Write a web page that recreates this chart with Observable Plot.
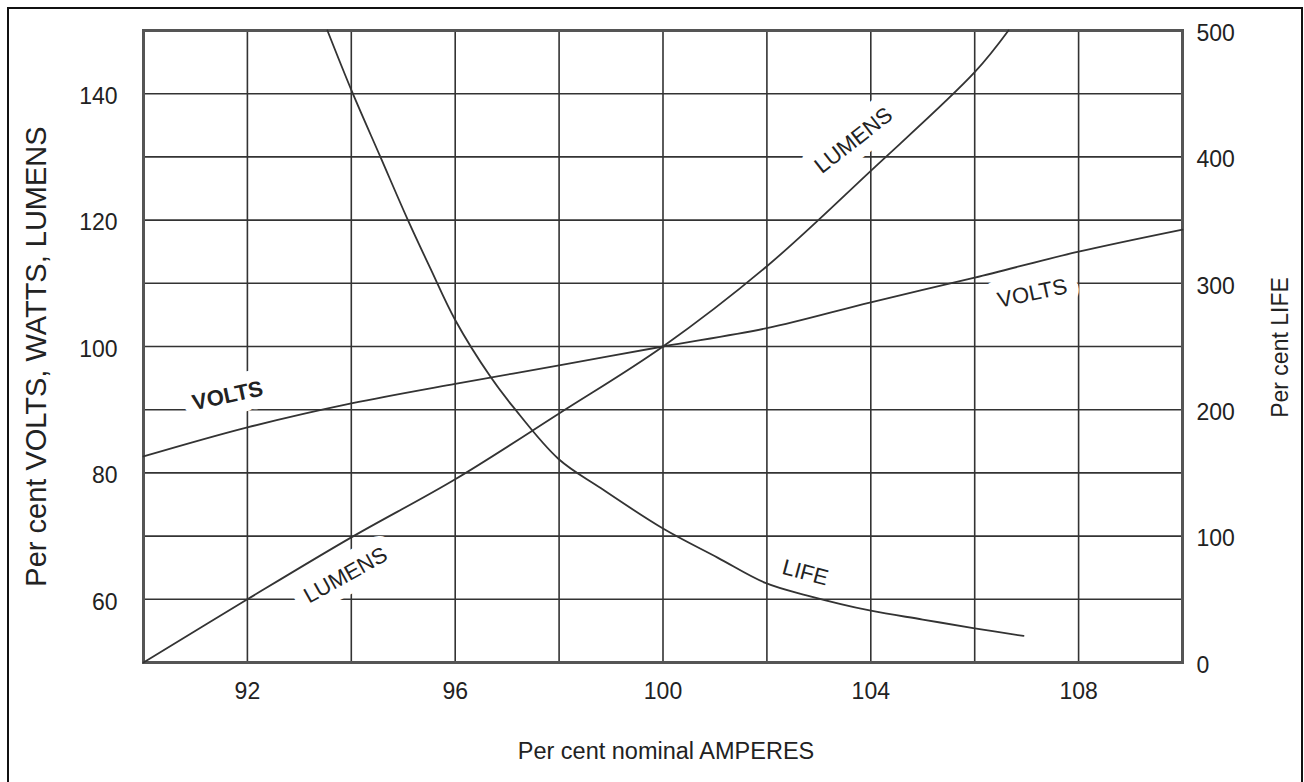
<!DOCTYPE html>
<html><head><meta charset="utf-8">
<script src="https://cdn.jsdelivr.net/npm/d3@7"></script>
<script src="https://cdn.jsdelivr.net/npm/@observablehq/plot@0.6"></script>
<style>
html,body{margin:0;padding:0;background:#fff;overflow:hidden}
#wrap{position:relative;width:1304px;height:782px}
#border{position:absolute;left:7px;top:7px;width:1296px;height:800px;border:2px solid #111;box-sizing:border-box;pointer-events:none}
</style></head><body><div id="wrap"><div id="chart"></div><div id="border"></div></div>
<script>
// ---- data ----
const voltsAmps = [90, 92, 94, 96, 98, 100, 102, 104, 106, 108, 110];
const voltsPct  = [82.6, 87.2, 91.0, 94.1, 97.0, 100, 102.9, 107.0, 110.9, 115.0, 118.5];

const lumensAmps = [90, 92, 94, 96, 98, 100, 102, 104, 106, 106.65];
const lumensPct  = [50, 60, 69.8, 79.0, 89.4, 100, 112.7, 127.8, 143.4, 150];

const lifeAmps = [93.54, 94.02, 94.56, 95.09, 95.52, 96, 96.68, 97.12, 97.99, 98.8, 100, 101.05, 101.97, 102.78, 104, 105, 106, 106.94];
const lifePct  = [500, 451, 400, 350, 312, 271, 226, 202, 161, 138, 106, 83, 63, 53, 41, 34, 27, 21];

const ampTickLabels = [92, 96, 100, 104, 108];
const ampGrid = [92, 94, 96, 98, 100, 102, 104, 106, 108];
const pctTickLabels = [60, 80, 100, 120, 140];
const pctGrid = [60, 70, 80, 90, 100, 110, 120, 130, 140];
const lifeTickLabels = [0, 100, 200, 300, 400, 500];

const curveLabels = ["VOLTS", "VOLTS", "LUMENS", "LUMENS", "LIFE"];
const curveLabelAmps = [91.62, 107.11, 103.67, 93.89, 102.74];
const curveLabelPct = [92.2, 108.4, 132.6, 63.8, 64.2];

// life (0–500) shares the plot with the 50–150 percent axis
const lifeToPct = v => 50 + v / 5;
const pctToLife = p => Math.round((p - 50) * 5);

const volts = voltsAmps.map((a, i) => ({amps: a, pct: voltsPct[i]}));
const lumens = lumensAmps.map((a, i) => ({amps: a, pct: lumensPct[i]}));
const life = lifeAmps.map((a, i) => ({amps: a, pct: lifeToPct(lifePct[i])}));
const labels = curveLabels.map((t, i) => ({text: t, amps: curveLabelAmps[i], pct: curveLabelPct[i]}));

const ink = "#333";
const font = "'Liberation Sans', Arial, Helvetica, sans-serif";
const halo = {stroke: "white", strokeWidth: 24, strokeLinejoin: "round", fill: "#222", fontSize: 22, fontFamily: font};

const chart = Plot.plot({
  width: 1304,
  height: 782,
  marginTop: 30,
  marginBottom: 120,
  marginLeft: 143,
  marginRight: 122,
  style: {fontFamily: font, fontSize: "23px", color: "#222", background: "white"},
  x: {domain: [90, 110]},
  y: {domain: [50, 150]},
  marks: [
    Plot.gridX(ampGrid, {stroke: ink, strokeOpacity: 1, strokeWidth: 1.6}),
    Plot.gridY(pctGrid, {stroke: ink, strokeOpacity: 1, strokeWidth: 1.6}),
    Plot.frame({stroke: "#555", strokeWidth: 3}),
    Plot.axisX({ticks: ampTickLabels, tickSize: 0, tickPadding: 20, fontSize: 23, label: null, fill: "#222"}),
    Plot.axisY({anchor: "left", ticks: pctTickLabels, tickSize: 0, tickPadding: 26, fontSize: 23, label: null, fill: "#222", dy: 3}),
    Plot.axisY({anchor: "right", ticks: lifeTickLabels.map(lifeToPct), tickFormat: pctToLife, tickSize: 0, tickPadding: 14, fontSize: 23, label: null, fill: "#222", dy: 3}),
    // curve labels with white halo
    Plot.text([labels[0]], {x: "amps", y: "pct", text: "text", rotate: -12, fontWeight: "bold", ...halo}),
    Plot.text([labels[1]], {x: "amps", y: "pct", text: "text", rotate: -12, ...halo}),
    Plot.text([labels[2]], {x: "amps", y: "pct", text: "text", rotate: -38, ...halo}),
    Plot.text([labels[3]], {x: "amps", y: "pct", text: "text", rotate: -29, ...halo}),
    Plot.text([labels[4]], {x: "amps", y: "pct", text: "text", rotate: 15, ...halo}),
    // curves
    Plot.line(volts, {x: "amps", y: "pct", stroke: ink, strokeWidth: 1.8, curve: "catmull-rom"}),
    Plot.line(lumens, {x: "amps", y: "pct", stroke: ink, strokeWidth: 1.8, curve: "catmull-rom"}),
    Plot.line(life, {x: "amps", y: "pct", stroke: ink, strokeWidth: 1.8, curve: "catmull-rom"}),
    // axis titles
    Plot.text(["Per cent VOLTS, WATTS, LUMENS"], {text: d => d, frameAnchor: "left", textAnchor: "middle", rotate: -90, dx: -107, dy: 10, fontSize: 29, fill: "#222"}),
    Plot.text(["Per cent LIFE"], {text: d => d, frameAnchor: "right", textAnchor: "middle", rotate: -90, dx: 98, dy: 1, fontSize: 23, fill: "#222"}),
    Plot.text(["Per cent nominal AMPERES"], {text: d => d, frameAnchor: "bottom", dx: 3, dy: 96, fontSize: 23.5, fill: "#222"})
  ]
});
document.getElementById("chart").appendChild(chart);
</script>
</body></html>
